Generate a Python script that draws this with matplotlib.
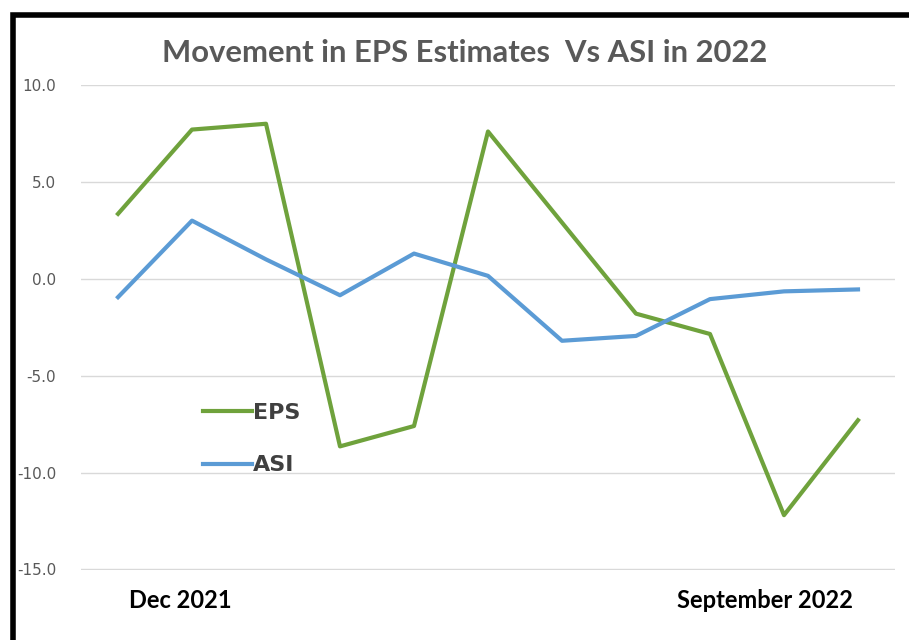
import matplotlib
matplotlib.use('Agg')
import matplotlib.pyplot as plt
import numpy as np
from matplotlib.patches import Rectangle

# Monthly movement, Nov 2021 .. Sep 2022
months = ['Nov 2021', 'Dec 2021', 'Jan 2022', 'Feb 2022', 'Mar 2022', 'Apr 2022',
          'May 2022', 'Jun 2022', 'Jul 2022', 'Aug 2022', 'September 2022']
eps = [3.35, 7.7, 8.0, -8.65, -7.6, 7.6, 2.9, -1.8, -2.85, -12.2, -7.3]
asi = [-0.95, 3.0, 1.0, -0.85, 1.3, 0.15, -3.2, -2.95, -1.05, -0.65, -0.55]
y_ticks = [-15, -10, -5, 0, 5, 10]
shown_labels = {'Dec 2021': 0.84, 'September 2022': 8.74}

fig = plt.figure(figsize=(9.09, 6.4), dpi=100)
fig.patch.set_facecolor('white')

# thick black frame around the chart (cropped on right/bottom)
fig.add_artist(Rectangle((13 / 909, -0.1), 1.2, 1 - 15 / 640 + 0.1,
                         transform=fig.transFigure, fill=False,
                         edgecolor='black', linewidth=4))

ax = fig.add_axes([81 / 909, 1 - 570 / 640, (895 - 81) / 909, (570 - 85) / 640])
x = np.arange(len(months))
ax.plot(x, eps, color='#6fa23c', linewidth=3, label='EPS', solid_joinstyle='round')
ax.plot(x, asi, color='#5b9bd5', linewidth=3, label='ASI', solid_joinstyle='round')

ax.set_xlim(-0.5, len(months) - 0.5)
ax.set_ylim(-15.03, 10)
ax.set_yticks(y_ticks)
ax.set_yticklabels([f'{v:.1f}' for v in y_ticks], color='#595959', fontsize=11)
ax.set_xticks([])
ax.tick_params(axis='y', length=0, pad=18)
ax.grid(axis='y', color='#d9d9d9', linewidth=1)
ax.set_axisbelow(True)
for s in ax.spines.values():
    s.set_visible(False)

for name, pos in shown_labels.items():
    ax.text(pos, -16.6, name, ha='center', va='center', fontsize=17,
            fontweight='bold', family='Lato', color='black')

fig.text(465 / 909, 1 - 53 / 640, 'Movement in EPS Estimates  Vs ASI in 2022',
         ha='center', va='center', fontsize=22.3, fontweight='bold',
         family='Lato', color='#595959')

leg = ax.legend(loc='upper left', bbox_to_anchor=(0.125, 0.385), frameon=False,
                handlelength=2.2, handletextpad=0.05, labelspacing=1.45,
                prop={'weight': 'bold', 'size': 16})
for t in leg.get_texts():
    t.set_color('#404040')

plt.savefig('out.png', dpi=100)
